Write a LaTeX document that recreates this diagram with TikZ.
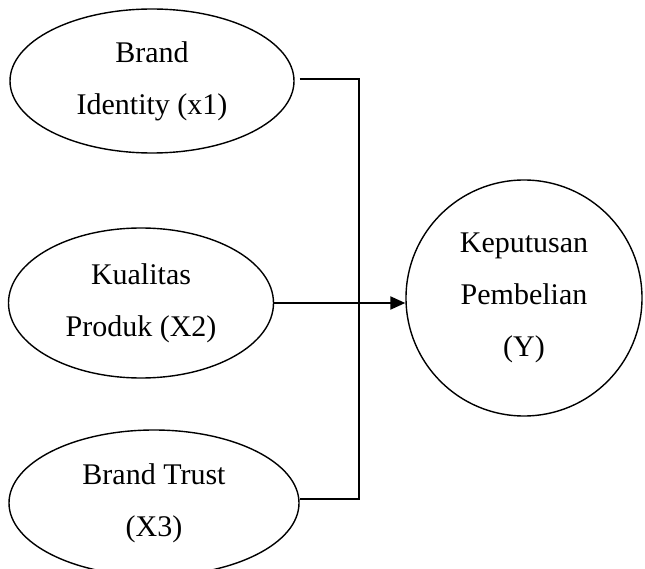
\documentclass[tikz,border=0pt]{standalone}
\usepackage{fontspec}
\setmainfont{Liberation Serif}
\usetikzlibrary{arrows.meta,positioning,shapes.geometric}

\begin{document}
\begin{tikzpicture}[x=1pt,y=-1pt,
 var/.style={draw,ellipse,line width=1.4pt,inner sep=0pt,align=center,font=\fontsize{30}{52}\selectfont},
 link/.style={line width=1.5pt},
 arr/.style={-{Triangle[length=15pt,width=13pt]},line width=2.2pt}]
\useasboundingbox (0,0) rectangle (645,569);
\node[var,minimum width=284pt,minimum height=144pt] (brand) at (152,81) {Brand\\Identity (x1)};
\node[var,minimum width=265pt,minimum height=150pt] (kual) at (141,303) {Kualitas\\Produk (X2)};
\node[var,minimum width=290pt,minimum height=146pt] (trust) at (154,503) {Brand Trust\\(X3)};
\node[var,circle,minimum size=236pt] (kep) at (524,298) {Keputusan\\Pembelian\\(Y)};
\coordinate (jtop) at (359,79);
\coordinate (jbot) at (359,499);
\draw[link] (brand.east |- jtop) ++(5,0) -- (jtop) -- (jbot) -- (trust.east |- jbot);
\draw[arr] (kual.east) -- (kual.east -| kep.west);
\end{tikzpicture}
\end{document}
